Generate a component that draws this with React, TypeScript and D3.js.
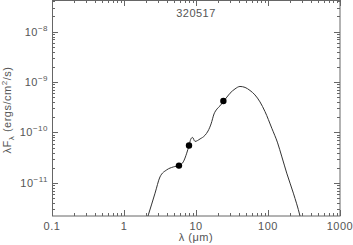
import React from 'react';
import * as d3 from 'd3';

// model SED
const modelWave = [1.97, 2.18, 2.7, 3.16, 3.92, 4.84, 5.86, 6.66, 7.43, 7.99, 8.44, 8.94, 9.68, 11.4, 13.3, 14.7, 16.2, 17.8, 19.6, 21.5, 24.3, 29.7, 34.8, 40.8, 48.0, 56.2, 65.9, 77.4, 90.8, 113, 136, 156, 182, 225, 278, 297];
const modelFlux = [1.47e-12, 2.32e-12, 6.25e-12, 1.31e-11, 1.81e-11, 2.07e-11, 2.22e-11, 2.61e-11, 3.88e-11, 5.48e-11, 7.28e-11, 7.98e-11, 6.65e-11, 7.45e-11, 8.75e-11, 1.07e-10, 1.48e-10, 2.33e-10, 2.93e-10, 3.36e-10, 4.17e-10, 6.01e-10, 7.31e-10, 8.18e-10, 7.83e-10, 6.82e-10, 5.56e-10, 4.04e-10, 2.6e-10, 1.21e-10, 6.21e-11, 3.27e-11, 1.56e-11, 6.25e-12, 2.21e-12, 1.47e-12];

// observed photometry
const obsWave = [5.8, 8.0, 24.0];
const obsFlux = [2.2e-11, 5.5e-11, 4.2e-10];
const obsErr = [0.25e-11, 0.6e-11, 0.45e-10];

const xTickLabels = ['0.1', '1', '10', '100', '1000'];
const yTickExps = [-11, -10, -9, -8];

const title = '320517';

const App = () => {
  const width = 353;
  const height = 245;
  const left = 52, right = 340, top = 0, bottom = 216;

  const x = d3.scaleLog().domain([0.1, 1000]).range([left, right]);
  const y = d3.scaleLog().domain([2.2e-12, 4.25e-8]).range([bottom, top]);

  const line = d3.line<number>()
    .x((_, i) => x(modelWave[i]))
    .y(d => y(d))
    .curve(d3.curveMonotoneX);

  const xTicks = x.ticks();
  const yTicks = y.ticks();
  const isMajor = (v: number) => Math.abs(Math.log10(v) - Math.round(Math.log10(v))) < 1e-6;

  const axisColor = '#666';
  const textColor = '#555';
  const font = 'Liberation Sans, Arial, sans-serif';
  const fs = 11;
  const ls = 0.5;

  return (
    <svg width={width} height={height} style={{ position: 'absolute', left: 0, top: 0 }}
      fontFamily={font} letterSpacing={ls}>
      <rect width={width} height={height} fill="#fff" />
      <defs>
        <clipPath id="plot">
          <rect x={left} y={top} width={right - left} height={bottom - top} />
        </clipPath>
      </defs>

      {/* frame */}
      <rect x={left + 0.5} y={top + 0.5} width={right - left - 0.5} height={bottom - top - 0.5}
        fill="none" stroke={axisColor} strokeWidth={1} />

      {/* x ticks, bottom and top, pointing inward */}
      {xTicks.map((t, i) => {
        const len = isMajor(t) ? 6 : 3;
        const px = Math.round(x(t)) + 0.5;
        return (
          <g key={'xt' + i} stroke={axisColor}>
            <line x1={px} x2={px} y1={bottom} y2={bottom - len} />
            <line x1={px} x2={px} y1={top} y2={top + len} />
          </g>
        );
      })}
      {/* y ticks, left and right */}
      {yTicks.map((t, i) => {
        const len = isMajor(t) ? 6 : 3;
        const py = Math.round(y(t)) + 0.5;
        return (
          <g key={'yt' + i} stroke={axisColor}>
            <line x1={left} x2={left + len} y1={py} y2={py} />
            <line x1={right} x2={right - len} y1={py} y2={py} />
          </g>
        );
      })}

      {/* x tick labels */}
      {xTickLabels.map(l => (
        <text key={l} x={x(+l)} y={230} textAnchor="middle" fontSize={fs} fill={textColor}>{l}</text>
      ))}
      {/* y tick labels */}
      {yTickExps.map(e => (
        <text key={e} x={48} y={y(Math.pow(10, e)) + 4} textAnchor="end" fontSize={fs} fill={textColor}>
          10<tspan dy={-5} fontSize={8}>{'\u2212' + Math.abs(e)}</tspan>
        </text>
      ))}

      {/* axis titles */}
      <text x={(left + right) / 2} y={241} textAnchor="middle" fontSize={fs} fill={textColor}>
        {'\u03bb (\u03bcm)'}
      </text>
      <text transform={`translate(11,${(top + bottom) / 2 + 2}) rotate(-90)`} textAnchor="middle"
        fontSize={fs} fill={textColor}>
        {'\u03bbF'}<tspan dy={3} fontSize={8}>{'\u03bb'}</tspan>
        <tspan dy={-3}>{' (ergs/cm'}</tspan><tspan dy={-4} fontSize={8}>2</tspan>
        <tspan dy={4}>{'/s)'}</tspan>
      </text>

      <text x={(left + right) / 2} y={17} textAnchor="middle" fontSize={fs} fill={textColor}>{title}</text>

      {/* model curve */}
      <path d={line(modelFlux) || ''} fill="none" stroke="#333" strokeWidth={1} clipPath="url(#plot)" />

      {/* observed points */}
      {obsWave.map((w, i) => (
        <g key={'o' + i}>
          <line x1={x(w)} x2={x(w)} y1={y(obsFlux[i] - obsErr[i])} y2={y(obsFlux[i] + obsErr[i])}
            stroke="#222" strokeWidth={1} />
          <circle cx={x(w)} cy={y(obsFlux[i])} r={3.2} fill="#000" />
        </g>
      ))}
    </svg>
  );
};

export default App;
